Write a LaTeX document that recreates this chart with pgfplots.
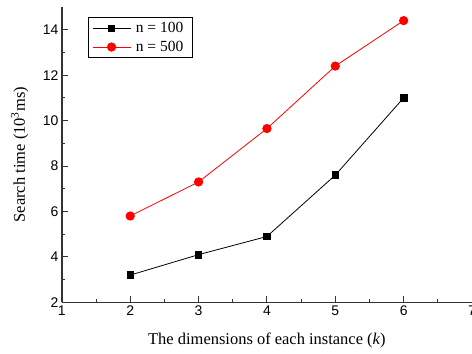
\documentclass[border=0pt]{standalone}
\usepackage{fontspec}
\setmainfont{Liberation Serif}
\setsansfont{Liberation Sans}
\usepackage{pgfplots}
\pgfplotsset{compat=1.18}
\begin{document}
\begin{tikzpicture}
\begin{axis}[
  at={(0,0)}, anchor=origin,
  scale only axis,
  width=411pt, height=296pt,
  xmin=1, xmax=7, ymin=2, ymax=15,
  axis x line*=bottom, axis y line*=left,
  axis line style={line width=1.3pt, draw=black!80, -},
  xtick={1,2,3,4,5,6,7}, ytick={2,4,6,8,10,12,14},
  minor x tick num=1, minor y tick num=1,
  tick align=inside,
  major tick length=6pt, minor tick length=3.5pt,
  every tick/.style={black!80, line width=1pt},
  /pgf/number format/assume math mode=true,
  tick label style={font=\fontsize{14}{16}\sffamily},
  xlabel={The dimensions of each instance (\textit{k})},
  ylabel={Search time (10\textsuperscript{3}ms)},
  label style={font=\fontsize{16.5}{18}\selectfont},
  xlabel style={at={(axis description cs:0.5,0)}, anchor=north, yshift=-27pt},
  ylabel style={at={(axis description cs:0,0.5)}, anchor=south, xshift=0pt, yshift=30pt},
  legend style={at={(26pt,286pt)}, anchor=north west, draw=black, line width=0.8pt,
    font=\fontsize{15.5}{17}\selectfont, inner xsep=4pt, inner ysep=3pt, row sep=3pt,
    nodes={inner xsep=5pt}},
  legend cell align=left,
  legend image code/.code={\draw[mark repeat=2,mark phase=2,line width=0.8pt] plot coordinates {(0pt,0pt) (19pt,0pt) (38pt,0pt)};},
  clip=false,
]
\addplot[black, line width=0.8pt, mark=square*, mark size=3.3pt, mark options={solid}]
  coordinates {(2,3.2) (3,4.1) (4,4.9) (5,7.6) (6,11.0)};
\addlegendentry{n = 100}
\addplot[red, line width=0.8pt, mark=*, mark size=4.2pt, mark options={solid}]
  coordinates {(2,5.8) (3,7.3) (4,9.65) (5,12.4) (6,14.4)};
\addlegendentry{n = 500}
\end{axis}
\pgfresetboundingbox
\path[use as bounding box] (-62pt,-51pt) rectangle (411pt,303pt);
\end{tikzpicture}
\end{document}
